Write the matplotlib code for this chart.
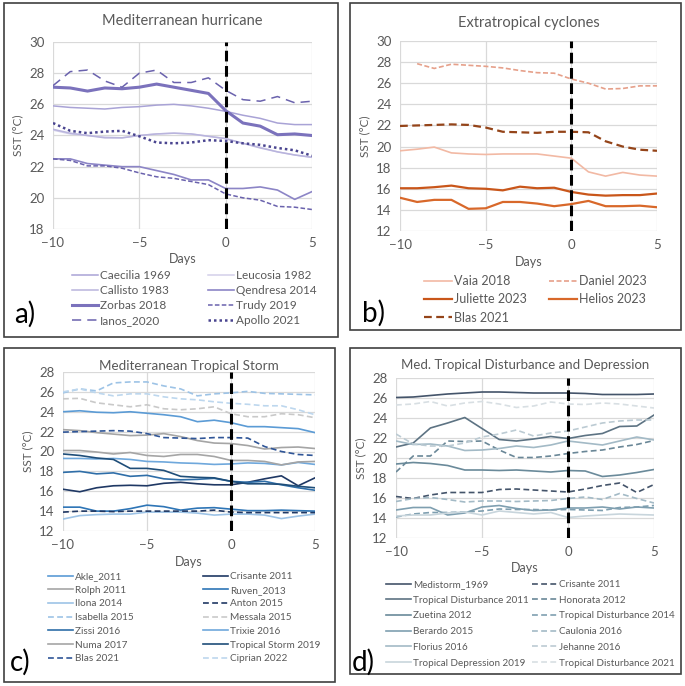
import numpy as np
import matplotlib
matplotlib.use('Agg')
from matplotlib import pyplot as plt
from matplotlib.patches import Rectangle

plt.rcParams['font.family'] = ['Lato', 'DejaVu Sans']

days = list(range(-10, 6))

# a) Mediterranean hurricane
caecilia = [25.9, 25.8, 25.75, 25.7, 25.8, 25.85, 25.95, 26.0, 25.9, 25.75, 25.55, 25.3, 25.1, 24.8, 24.7, 24.7]
leucosia = [24.35, 24.1, 24.0, 23.9, 23.85, 24.0, 24.1, 24.15, 24.1, 23.95, 23.8, 23.5, 23.25, 22.95, 22.75, 22.6]
callisto = [24.4, 24.15, 24.0, 23.85, 23.85, 24.0, 24.1, 24.15, 24.1, 23.95, 23.8, 23.5, 23.2, 22.95, 22.75, 22.6]
qendresa = [22.5, 22.5, 22.2, 22.1, 22.0, 22.0, 21.75, 21.5, 21.15, 21.15, 20.6, 20.6, 20.7, 20.5, 19.9, 20.4]
zorbas = [27.1, 27.05, 26.85, 27.05, 27.0, 27.1, 27.3, 27.1, 26.9, 26.7, 25.6, 24.8, 24.6, 24.05, 24.1, 24.0]
trudy = [22.5, 22.4, 22.05, 22.05, 21.9, 21.6, 21.35, 21.25, 21.05, 20.85, 20.25, 20.0, 19.85, 19.45, 19.4, 19.25]
ianos = [27.2, 28.1, 28.2, 27.5, 27.1, 28.0, 28.2, 27.4, 27.4, 27.7, 26.9, 26.3, 26.2, 26.5, 26.1, 26.2]
apollo = [24.8, 24.3, 24.15, 24.25, 24.3, 23.95, 23.55, 23.5, 23.55, 23.7, 23.65, 23.5, 23.4, 23.2, 23.05, 22.7]

# b) Extratropical cyclones
vaia = [19.6, 19.75, 19.95, 19.4, 19.3, 19.25, 19.3, 19.3, 19.3, 19.1, 18.9, 17.6, 17.2, 17.55, 17.3, 17.2]
daniel = [np.nan, 27.85, 27.4, 27.8, 27.7, 27.6, 27.45, 27.2, 27.0, 26.95, 26.4, 26.0, 25.45, 25.5, 25.75, 25.75]
juliette = [16.05, 16.05, 16.15, 16.3, 16.05, 16.0, 15.85, 16.2, 16.05, 16.1, 15.7, 15.45, 15.35, 15.4, 15.4, 15.55]
helios = [15.15, 14.75, 14.95, 14.95, 14.1, 14.15, 14.75, 14.75, 14.6, 14.35, 14.55, 14.85, 14.35, 14.35, 14.4, 14.25]
blas = [21.95, 22.0, 22.05, 22.1, 22.05, 21.8, 21.4, 21.35, 21.3, 21.4, 21.4, 21.35, 20.5, 20.0, 19.7, 19.6]

# c) Mediterranean Tropical Storm
akle = [24.0, 24.1, 23.95, 23.9, 24.0, 23.85, 23.7, 23.5, 23.0, 23.15, 22.9, 22.5, 22.5, 22.4, 22.3, 21.9]
crisante = [16.2, 15.95, 16.35, 16.55, 16.6, 16.55, 16.8, 16.9, 16.75, 16.65, 16.65, 16.9, 17.25, 17.55, 16.55, 17.35]
rolph = [22.2, 22.1, 21.9, 21.75, 21.6, 21.65, 21.8, 21.5, 21.1, 20.85, 20.8, 20.6, 20.25, 20.4, 20.45, 20.3]
ruven = [14.4, 14.4, 14.0, 14.0, 14.25, 14.6, 14.45, 14.1, 14.3, 14.35, 14.2, 14.05, 14.05, 14.1, 14.05, 14.0]
ilona = [13.2, 13.55, 13.65, 13.7, 13.7, 13.9, 13.9, 13.9, 13.8, 13.6, 13.7, 13.7, 13.6, 13.25, 13.5, 13.7]
anton = [13.9, 14.0, 14.0, 13.95, 14.0, 14.0, 14.0, 14.0, 14.0, 14.1, 13.9, 13.85, 13.85, 13.85, 13.85, 13.85]
isabella = [25.9, 26.3, 26.1, 26.9, 27.0, 27.0, 26.6, 26.3, 25.6, 25.8, 25.9, 26.05, 25.85, 25.8, 25.75, 25.7]
messala = [25.3, 25.35, 24.9, 24.7, 24.5, 24.7, 24.3, 24.2, 24.3, 24.5, 23.8, 23.5, 23.5, 23.8, 23.7, 23.4]
zissi = [17.9, 18.0, 17.75, 17.85, 17.5, 17.6, 17.25, 17.15, 17.2, 17.3, 17.0, 16.9, 17.0, 16.65, 16.35, 16.1]
trixie = [19.3, 19.3, 19.25, 19.3, 19.2, 19.0, 18.95, 18.85, 18.8, 18.7, 18.75, 18.85, 18.8, 18.65, 18.9, 18.7]
numa = [20.1, 20.1, 19.95, 19.75, 19.9, 19.6, 19.5, 19.7, 19.7, 19.5, 19.1, 19.1, 19.0, 18.65, 18.95, 19.0]
ts2019 = [19.75, 19.6, 19.35, 19.2, 18.3, 18.3, 18.1, 17.5, 17.4, 17.35, 17.0, 16.75, 16.75, 16.7, 16.5, 16.35]
ciprian = [26.0, 26.3, 25.9, 25.6, 25.8, 25.8, 25.5, 25.3, 25.2, 25.0, 24.85, 24.75, 24.6, 24.6, 24.2, 23.7]

# d) Med. Tropical Disturbance and Depression
medistorm = [26.05, 26.1, 26.25, 26.4, 26.5, 26.6, 26.6, 26.55, 26.5, 26.5, 26.5, 26.45, 26.35, 26.35, 26.35, 26.4]
td2011 = [21.1, 21.5, 23.0, 23.5, 24.05, 22.95, 21.85, 21.7, 21.9, 22.15, 21.95, 22.25, 22.45, 23.15, 23.2, 24.3]
zuetina = [19.4, 19.55, 19.45, 19.25, 18.8, 18.8, 18.75, 18.8, 18.7, 18.6, 18.75, 18.7, 18.15, 18.3, 18.55, 18.85]
berardo = [14.8, 15.05, 15.05, 14.3, 14.5, 15.1, 15.25, 14.95, 14.75, 14.8, 15.0, 15.0, 15.1, 14.9, 15.1, 15.0]
florius = [21.7, 21.35, 21.4, 21.2, 20.75, 20.8, 20.95, 21.2, 21.05, 21.3, 21.7, 21.5, 21.3, 21.7, 22.1, 21.8]
tdep2019 = [14.2, 14.3, 14.3, 14.5, 14.6, 14.3, 14.7, 14.55, 14.4, 14.55, 14.05, 14.2, 14.3, 14.4, 14.35, 14.3]
crisante_d = [16.15, 15.95, 16.3, 16.55, 16.55, 16.55, 16.85, 16.9, 16.8, 16.7, 16.6, 16.9, 17.25, 17.5, 16.55, 17.35]
honorata = [18.6, 20.2, 20.2, 21.7, 21.65, 21.7, 20.8, 20.05, 20.05, 20.2, 20.45, 20.65, 20.8, 21.1, 21.35, 21.75]
td2014 = [14.1, 14.4, 14.55, 14.55, 14.6, 14.7, 14.9, 14.85, 14.85, 14.8, 14.85, 14.8, 14.75, 15.05, 15.1, 15.25]
caulonia = [15.65, 15.95, 16.05, 15.85, 15.6, 15.7, 15.7, 15.65, 15.7, 15.75, 15.95, 16.1, 15.85, 16.45, 15.95, 15.5]
jehanne = [22.4, 21.4, 21.2, 21.2, 21.5, 22.1, 22.4, 22.8, 22.2, 22.5, 22.7, 23.1, 23.5, 23.7, 23.8, 23.8]
td2021 = [25.3, 25.4, 25.65, 25.2, 25.5, 25.65, 25.4, 25.05, 25.2, 25.6, 25.4, 25.35, 25.5, 25.4, 25.2, 25.0]

SOLID = '-'
SDASH = (0, (3, 1.5))
LDASH = (0, (6, 4))
DOT = (0, (1, 1.2))
DASH = (0, (3.5, 2))

fig = plt.figure(figsize=(6.85, 6.86), dpi=100)
W, H = 685, 686


def box(x0, y0, x1, y1):
    fig.patches.append(Rectangle((x0 / W, 1 - y1 / H), (x1 - x0) / W, (y1 - y0) / H,
                                 transform=fig.transFigure, fill=False,
                                 edgecolor='#404040', lw=1.2))


def panel(px, title, series, ylim, leg_xy, ncol_sp, fs_leg, lsp, letter, letter_xy,
          title_y, title_fs=10.5, hlen=2.2):
    l, t, r, b = px
    ax = fig.add_axes([l / W, 1 - b / H, (r - l) / W, (b - t) / H])
    handles = []
    for name, vals, color, ls, lw in series:
        h, = ax.plot(days, vals, color=color, linestyle=ls, lw=lw, label=name)
        handles.append(h)
    ax.axvline(0, color='black', linestyle=(0, (3.5, 1.5)), lw=2.2, zorder=5)
    ax.set_xlim(-10, 5)
    ax.set_ylim(*ylim)
    ax.set_xticks([-10, -5, 0, 5])
    ax.set_yticks(np.arange(ylim[0], ylim[1] + 0.1, 2))
    ax.grid(color='#d9d9d9', lw=0.9)
    ax.set_axisbelow(True)
    for s in ax.spines.values():
        s.set_visible(False)
    ax.tick_params(length=0, labelsize=9.5, labelcolor='#595959', pad=6)
    ax.set_xlabel('Days', fontsize=9, color='#595959', labelpad=3)
    ax.set_ylabel('SST (°C)', fontsize=8.5, color='#595959', labelpad=4)
    fig.text((l + r) / 2 / W, 1 - title_y / H, title, ha='center', va='center',
             fontsize=title_fs, color='#595959')
    # legend is read row by row in the original, matplotlib fills columns first
    n = len(handles)
    order = list(range(0, n, 2)) + list(range(1, n, 2))
    ax.legend(handles=[handles[i] for i in order], loc='upper left',
              bbox_to_anchor=(leg_xy[0] / W, 1 - leg_xy[1] / H),
              bbox_transform=fig.transFigure, ncol=2, frameon=False, fontsize=fs_leg,
              handlelength=hlen, handletextpad=0.2, columnspacing=ncol_sp,
              labelspacing=lsp, labelcolor='#595959', borderaxespad=0, borderpad=0)
    fig.text(letter_xy[0] / W, 1 - letter_xy[1] / H, letter, fontsize=20, ha='left', va='center')
    return ax


box(4, 3, 338, 337)
box(350, 3, 681, 330)
box(4, 348, 335, 682)
box(350, 348, 681, 674)

panel((53, 42, 312, 229), 'Mediterranean hurricane', [
    ('Caecilia 1969', caecilia, '#a9a3d6', SOLID, 1.1),
    ('Leucosia 1982', leucosia, '#d3d0ea', SOLID, 1.1),
    ('Callisto 1983', callisto, '#b9b4dd', SOLID, 1.1),
    ('Qendresa 2014', qendresa, '#8c85c6', SOLID, 1.2),
    ('Zorbas 2018', zorbas, '#7b72bc', SOLID, 2.2),
    ('Trudy 2019', trudy, '#6a62ad', SDASH, 1.1),
    ('Ianos_2020', ianos, '#6a62ad', LDASH, 1.1),
    ('Apollo 2021', apollo, '#4a4590', DOT, 1.8),
], (18, 30), (72, 270), 3.1, 8.5, 0.35, 'a)', (14, 314), 21)

panel((400, 41, 657, 231), 'Extratropical cyclones', [
    ('Vaia 2018', vaia, '#f2b9a4', SOLID, 1.2),
    ('Daniel 2023', daniel, '#e6a08a', SDASH, 1.2),
    ('Juliette 2023', juliette, '#c9561a', SOLID, 1.6),
    ('Helios 2023', helios, '#d8682a', SOLID, 1.6),
    ('Blas 2021', blas, '#944419', DASH, 1.6),
], (12, 30), (424, 275), 1.8, 9, 0.5, 'b)', (362, 313), 23)

panel((63, 372, 315, 531), 'Mediterranean Tropical Storm', [
    ('Akle_2011', akle, '#5b9bd5', SOLID, 1.2),
    ('Crisante 2011', crisante, '#1f3864', SOLID, 1.2),
    ('Rolph 2011', rolph, '#a5a5a5', SOLID, 1.2),
    ('Ruven_2013', ruven, '#2e75b6', SOLID, 1.2),
    ('Ilona 2014', ilona, '#9dc3e6', SOLID, 1.2),
    ('Anton 2015', anton, '#203864', DASH, 1.2),
    ('Isabella 2015', isabella, '#9dc3e6', DASH, 1.2),
    ('Messala 2015', messala, '#c9c9c9', DASH, 1.2),
    ('Zissi 2016', zissi, '#2f6ea8', SOLID, 1.2),
    ('Trixie 2016', trixie, '#6fa8dc', SOLID, 1.2),
    ('Numa 2017', numa, '#a5a5a5', SOLID, 1.2),
    ('Tropical Storm 2019', ts2019, '#1f4e79', SOLID, 1.2),
    ('Blas 2021', blas, '#2f5597', DASH, 1.2),
    ('Ciprian 2022', ciprian, '#bdd7ee', DASH, 1.2),
], (12, 28), (48, 572), 6.9, 7.2, 0.47, 'c)', (10, 662), 366, 9.7, 2.5)

panel((396, 378, 654, 538), 'Med. Tropical Disturbance and Depression', [
    ('Medistorm_1969', medistorm, '#44546a', SOLID, 1.2),
    ('Crisante 2011', crisante_d, '#44546a', DASH, 1.2),
    ('Tropical Disturbance 2011', td2011, '#5d7383', SOLID, 1.2),
    ('Honorata 2012', honorata, '#6a8797', DASH, 1.2),
    ('Zuetina 2012', zuetina, '#6a8a9a', SOLID, 1.2),
    ('Tropical Disturbance 2014', td2014, '#7f9fb0', DASH, 1.2),
    ('Berardo 2015', berardo, '#7f9fb0', SOLID, 1.2),
    ('Caulonia 2016', caulonia, '#a3bac6', DASH, 1.2),
    ('Florius 2016', florius, '#a3bac6', SOLID, 1.2),
    ('Jehanne 2016', jehanne, '#bccbd3', DASH, 1.2),
    ('Tropical Depression 2019', tdep2019, '#c8d5dc', SOLID, 1.2),
    ('Tropical Disturbance 2021', td2021, '#d8dfe3', DASH, 1.2),
], (12, 28), (386, 580), 0.4, 7.1, 0.68, 'd)', (352, 662), 365, 9.5, 2.5)

fig.savefig('out.png', dpi=100)
